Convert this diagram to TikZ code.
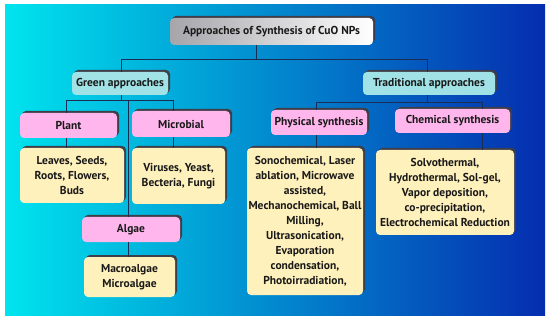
\documentclass[tikz,border=0pt]{standalone}
\usepackage{fontspec}
\setmainfont{PT Sans}
\usetikzlibrary{shadows}
\definecolor{bgL}{RGB}{0,228,238}
\definecolor{bgM}{RGB}{0,150,218}
\definecolor{bgR}{RGB}{5,45,175}
\definecolor{shad}{RGB}{62,62,72}
\definecolor{cyanbox}{RGB}{160,226,230}
\definecolor{pinkbox}{RGB}{255,182,236}
\definecolor{yelbox}{RGB}{255,241,188}
\definecolor{titleL}{RGB}{165,165,170}
\definecolor{linec}{RGB}{25,45,85}
\tikzset{
  base/.style={rounded corners=4pt, inner sep=0pt, align=center,
    font=\fontsize{11.5}{15}\selectfont\bfseries, text=black!90,
    general shadow={fill=shad, shadow xshift=2pt, shadow yshift=2pt}},
  titlebox/.style={base, left color=titleL, right color=white},
  lvlone/.style={base, fill=cyanbox},
  lvltwo/.style={base, fill=pinkbox},
  leafbox/.style={base, fill=yelbox},
  conn/.style={draw=linec, line width=0.8pt}
}
\begin{document}
\begin{tikzpicture}[x=1pt,y=-1pt]
\useasboundingbox (0,0) rectangle (550,321);
\shade[left color=bgL, middle color=bgM, right color=bgR] (5,5) rectangle (545,315);

\node[titlebox, minimum width=203pt, minimum height=27pt] (title) at (271.5,31.5) {Approaches of Synthesis of CuO NPs};
\node[lvlone, minimum width=96pt, minimum height=23pt] (green) at (120,83.5) {Green approaches};
\node[lvlone, minimum width=132pt, minimum height=23pt] (trad) at (429,83.5) {Traditional approaches};
\node[lvltwo, minimum width=97pt, minimum height=25pt] (plant) at (68.5,125.5) {Plant};
\node[lvltwo, minimum width=98pt, minimum height=26pt] (micro) at (181,124) {Microbial};
\node[lvltwo, minimum width=96pt, minimum height=25pt] (phys) at (319,122.5) {Physical synthesis};
\node[lvltwo, minimum width=115pt, minimum height=24pt] (chem) at (452.5,121) {Chemical synthesis};
\node[leafbox, minimum width=104pt, minimum height=55pt] (leaves) at (72,175.5) {Leaves, Seeds,\\Roots, Flowers,\\Buds};
\node[leafbox, minimum width=93pt, minimum height=56pt] (viruses) at (178.5,176) {Viruses, Yeast,\\Becteria, Fungi};
\node[lvltwo, minimum width=98pt, minimum height=25pt] (algae) at (131,229.5) {Algae};
\node[leafbox, minimum width=91pt, minimum height=40pt] (macro) at (129.5,277) {Macroalgae\\Microalgae};
\node[leafbox, minimum width=116pt, minimum height=147pt] (physbox) at (305,221.5) {Sonochemical, Laser\\ablation, Microwave\\assisted,\\Mechanochemical, Ball\\Milling,\\Ultrasonication,\\Evaporation\\condensation,\\Photoirradiation,};
\node[leafbox, minimum width=138pt, minimum height=85pt] (chembox) at (445,192.5) {Solvothermal,\\Hydrothermal, Sol-gel,\\Vapor deposition,\\co-precipitation,\\Electrochemical Reduction};

% junctions
\coordinate (j0) at (256,59);
\coordinate (jg) at (121,100);
\coordinate (jt) at (427,102);
\coordinate (pa) at (66,100);
\coordinate (ma) at (173,100);
\coordinate (aa) at (128,100);
\coordinate (pp) at (316,102);
\coordinate (cc) at (482,102);

\draw[conn] (title.south -| j0) -- (j0);
\draw[conn] (jg |- j0) -- (jt |- j0);
\draw[conn] (jg |- j0) -- (jg |- green.north);
\draw[conn] (jt |- j0) -- (jt |- trad.north);

\draw[conn] (jg |- green.south) -- (jg);
\draw[conn] (pa) -- (ma);
\draw[conn] (pa) -- (pa |- plant.north);
\draw[conn] (ma) -- (ma |- micro.north);
\draw[conn] (aa) -- (aa |- algae.north);
\draw[conn] (pa |- plant.south) -- (pa |- leaves.north);
\draw[conn] (ma |- micro.south) -- (ma |- viruses.north);
\draw[conn] (aa |- algae.south) -- (aa |- macro.north);

\draw[conn] (jt |- trad.south) -- (jt);
\draw[conn] (pp) -- (cc);
\draw[conn] (pp) -- (pp |- phys.north);
\draw[conn] (cc) -- (cc |- chem.north);
\draw[conn] (pp |- phys.south) -- (pp |- physbox.north);
\draw[conn] (cc |- chem.south) -- (cc |- chembox.north);
\end{tikzpicture}
\end{document}
